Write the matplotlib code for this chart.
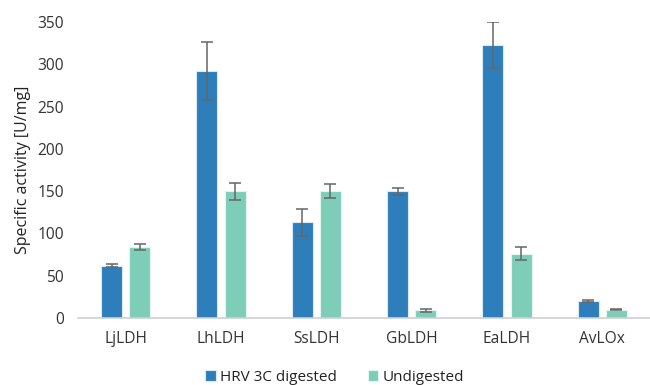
import numpy as np
import matplotlib.pyplot as plt

plt.rcParams['font.family'] = ['Open Sans', 'DejaVu Sans']

enzymes = ["LjLDH", "LhLDH", "SsLDH", "GbLDH", "EaLDH", "AvLOx"]
digested = [62, 292, 113, 150, 323, 20]
digested_err = [2, 34, 16, 4, 27, 1]
undigested = [84, 150, 150, 9, 76, 10]
undigested_err = [4, 10, 8, 2, 8, 1]

blue = "#2e7ebb"
green = "#7ecdb9"

fig = plt.figure(figsize=(6.5, 3.85), dpi=100)
ax = fig.add_axes([0.12, 0.174, 0.88, 0.769])

x = np.arange(len(enzymes))
w = 0.22
off = 0.147
err_kw = dict(ecolor="#666666", elinewidth=1.1, capsize=4.5, capthick=1.1)
ax.bar(x - off, digested, w, yerr=digested_err, color=blue, edgecolor="#dbe9f4",
       linewidth=0.8, label="HRV 3C digested", error_kw=err_kw)
ax.bar(x + off, undigested, w, yerr=undigested_err, color=green, edgecolor="#e4f5f0",
       linewidth=0.8, label="Undigested", error_kw=err_kw)

ax.set_xlim(-0.5, len(enzymes) - 0.5)
ax.set_ylim(0, 350)
ax.set_yticks(np.arange(0, 351, 50))
ax.set_xticks(x, enzymes)
ax.tick_params(axis='both', length=0, labelsize=11.2, colors="#333333")
ax.tick_params(axis='x', pad=9)
ax.tick_params(axis='y', pad=10)
for s in ['top', 'right', 'left']:
    ax.spines[s].set_visible(False)
ax.spines['bottom'].set_color("#d0d0d0")
ax.spines['bottom'].set_linewidth(1.2)

ax.set_ylabel("Specific activity [U/mg]", fontsize=11.5, color="#222222", labelpad=5)

fig.legend(loc="lower center", bbox_to_anchor=(0.515, -0.035), ncol=2, frameon=False,
           fontsize=11, handlelength=0.7, handleheight=0.7, handletextpad=0.3,
           columnspacing=2.0, labelcolor="#222222")

fig.savefig("out.png", dpi=100)
